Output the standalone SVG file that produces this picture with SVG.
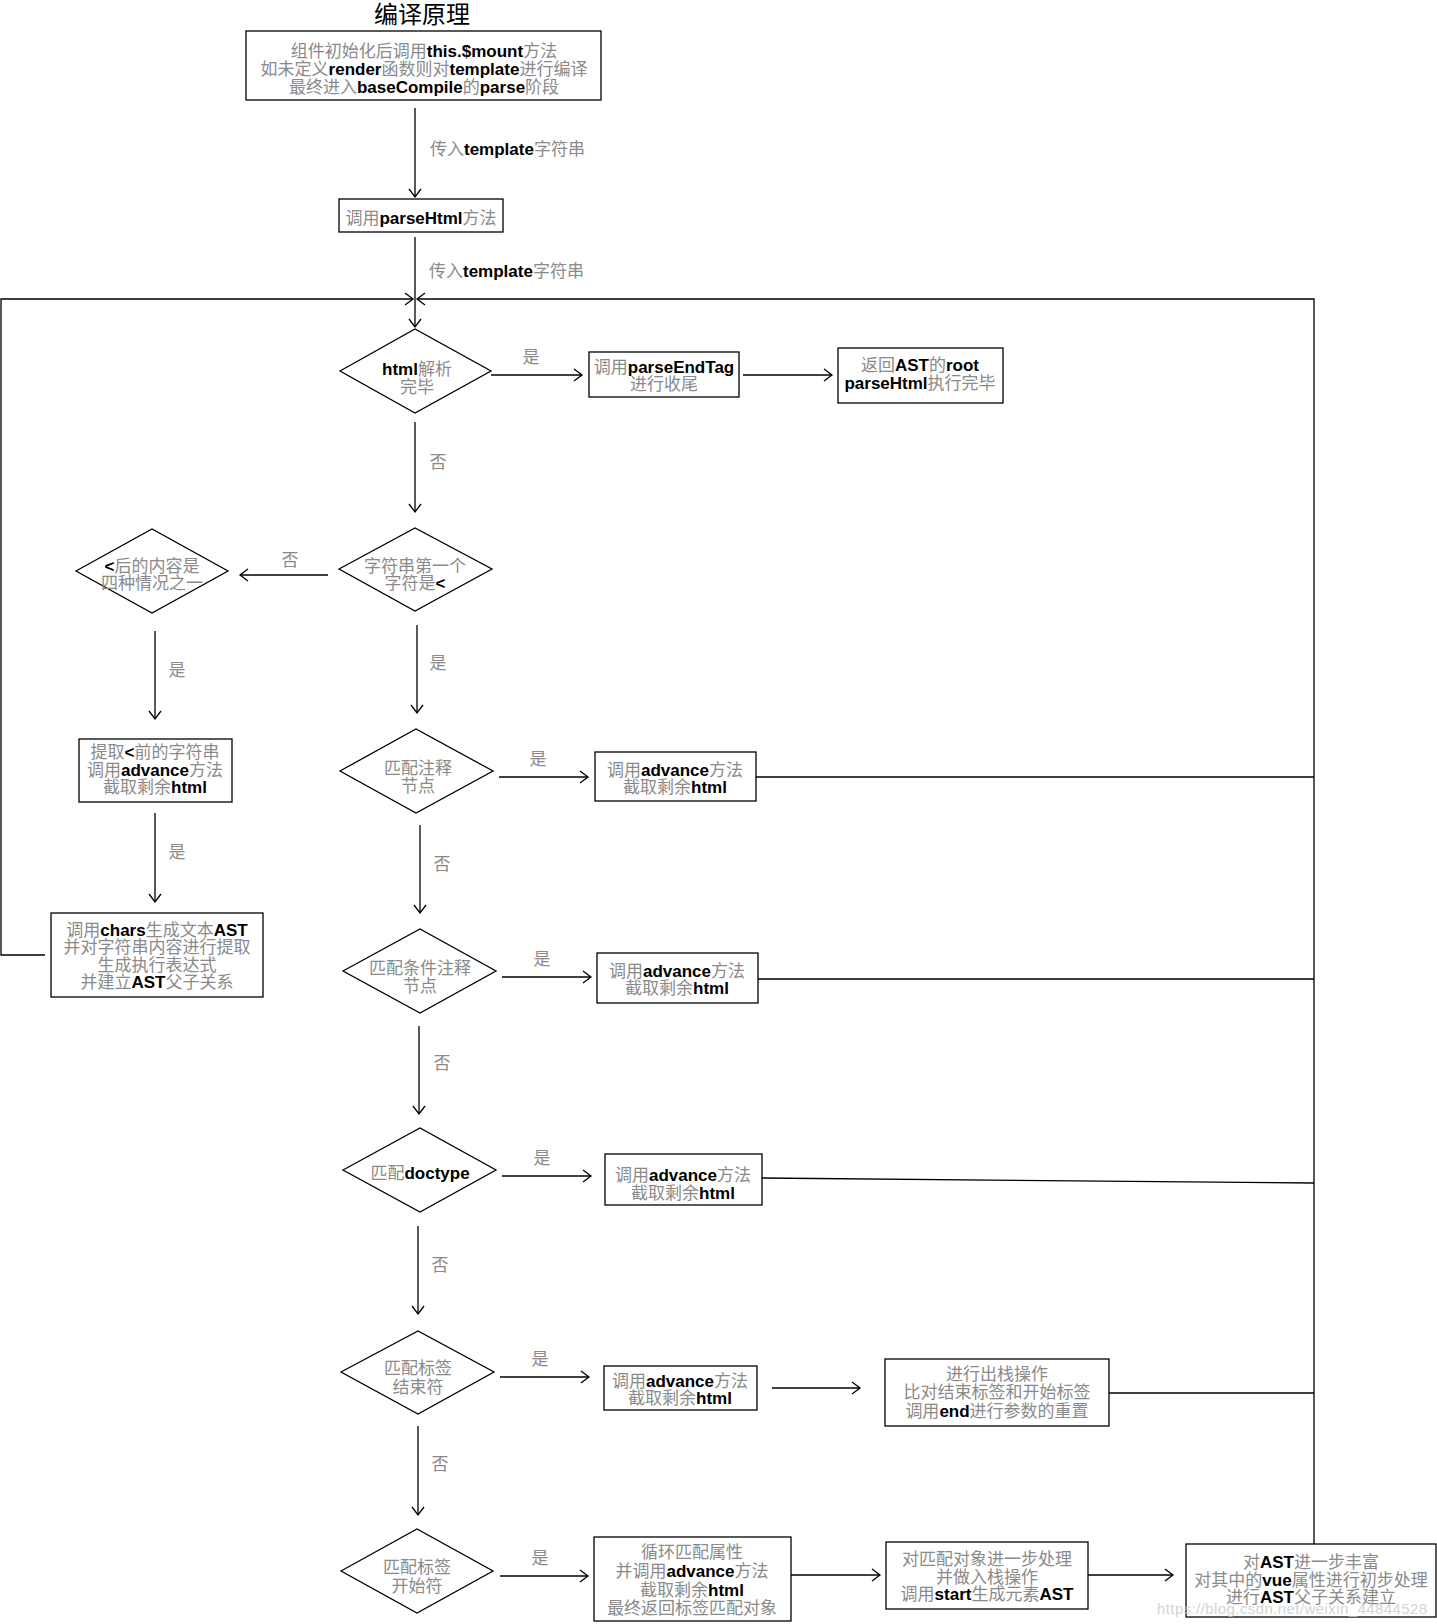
<svg xmlns="http://www.w3.org/2000/svg" width="1437" height="1624" viewBox="0 0 1437 1624">
<style>
.t{font-family:"Liberation Sans","Noto Sans CJK SC",sans-serif;font-size:17px;fill:#8a8a8a;text-anchor:middle}
.s{text-anchor:start}
.b{font-weight:bold;fill:#000}
.n{fill:#fff;stroke:#000;stroke-width:1.3}
.c{fill:none;stroke:#000;stroke-width:1.3}
.title{font-family:"Noto Sans CJK SC",sans-serif;font-size:24px;fill:#000;text-anchor:middle}
</style>
<defs>
<marker id="ah" markerUnits="userSpaceOnUse" markerWidth="12" markerHeight="14" viewBox="-10 -7 12 14" refX="0" refY="0" orient="auto"><path d="M-8,-6 L0,0 L-8,6" fill="none" stroke="#000" stroke-width="1.3"/></marker>
</defs>
<rect width="1437" height="1624" fill="#fff"/>
<text class="title" x="422" y="23">编译原理</text>

<g id="connectors">
<path class="c" d="M415,108 V197" marker-end="url(#ah)"/>
<path class="c" d="M415,237 V327" marker-end="url(#ah)"/>
<path class="c" d="M45,955 H1 V299 H413" marker-end="url(#ah)"/>
<path class="c" d="M1314,1544 V299 H417" marker-end="url(#ah)"/>
<path class="c" d="M491,375 H582" marker-end="url(#ah)"/>
<path class="c" d="M743,375 H832" marker-end="url(#ah)"/>
<path class="c" d="M415,422 V512" marker-end="url(#ah)"/>
<path class="c" d="M328,575 H240" marker-end="url(#ah)"/>
<path class="c" d="M155,631 V719" marker-end="url(#ah)"/>
<path class="c" d="M155,813 V902" marker-end="url(#ah)"/>
<path class="c" d="M417,625 V713" marker-end="url(#ah)"/>
<path class="c" d="M499,777 H588" marker-end="url(#ah)"/>
<path class="c" d="M756,777 H1314"/>
<path class="c" d="M420,825 V913" marker-end="url(#ah)"/>
<path class="c" d="M502,977 H591" marker-end="url(#ah)"/>
<path class="c" d="M758,979 H1314"/>
<path class="c" d="M419,1026 V1114" marker-end="url(#ah)"/>
<path class="c" d="M502,1176 H591" marker-end="url(#ah)"/>
<path class="c" d="M762,1178 L1314,1183"/>
<path class="c" d="M418,1226 V1314" marker-end="url(#ah)"/>
<path class="c" d="M500,1377 H589" marker-end="url(#ah)"/>
<path class="c" d="M772,1388 H860" marker-end="url(#ah)"/>
<path class="c" d="M1109,1393 H1314"/>
<path class="c" d="M418,1426 V1515" marker-end="url(#ah)"/>
<path class="c" d="M500,1576 H588" marker-end="url(#ah)"/>
<path class="c" d="M791,1575 H880" marker-end="url(#ah)"/>
<path class="c" d="M1088,1575 H1173" marker-end="url(#ah)"/>
<text class="t s" x="430" y="155">传入<tspan class="b">template</tspan>字符串</text>
<text class="t s" x="429" y="277">传入<tspan class="b">template</tspan>字符串</text>
<text class="t" x="531" y="363">是</text>
<text class="t" x="438" y="468">否</text>
<text class="t" x="290" y="566">否</text>
<text class="t" x="177" y="676">是</text>
<text class="t" x="177" y="858">是</text>
<text class="t" x="438" y="669">是</text>
<text class="t" x="538" y="765">是</text>
<text class="t" x="442" y="870">否</text>
<text class="t" x="542" y="965">是</text>
<text class="t" x="442" y="1069">否</text>
<text class="t" x="542" y="1164">是</text>
<text class="t" x="440" y="1271">否</text>
<text class="t" x="540" y="1365">是</text>
<text class="t" x="440" y="1470">否</text>
<text class="t" x="540" y="1564">是</text>
</g>

<g id="n-start">
<rect class="n" x="246" y="31" width="355" height="69"/>
<text class="t" x="424" y="57">组件初始化后调用<tspan class="b">this.$mount</tspan>方法</text>
<text class="t" x="424" y="75">如未定义<tspan class="b">render</tspan>函数则对<tspan class="b">template</tspan>进行编译</text>
<text class="t" x="424" y="93">最终进入<tspan class="b">baseCompile</tspan>的<tspan class="b">parse</tspan>阶段</text>
</g>
<g id="n-parsehtml">
<rect class="n" x="339" y="199" width="164" height="33"/>
<text class="t" x="421" y="224">调用<tspan class="b">parseHtml</tspan>方法</text>
</g>
<g id="n-done">
<polygon class="n" points="340,371 415,329 491,371 415,413"/>
<text class="t" x="417" y="375"><tspan class="b">html</tspan>解析</text>
<text class="t" x="417" y="393">完毕</text>
</g>
<g id="n-endtag">
<rect class="n" x="589" y="352" width="150" height="45"/>
<text class="t" x="664" y="373">调用<tspan class="b">parseEndTag</tspan></text>
<text class="t" x="664" y="390">进行收尾</text>
</g>
<g id="n-root">
<rect class="n" x="838" y="348" width="165" height="55"/>
<text class="t" x="920" y="371">返回<tspan class="b">AST</tspan>的<tspan class="b">root</tspan></text>
<text class="t" x="920" y="389"><tspan class="b">parseHtml</tspan>执行完毕</text>
</g>
<g id="n-first">
<polygon class="n" points="339,569 415,528 492,569 415,611"/>
<text class="t" x="415" y="572">字符串第一个</text>
<text class="t" x="415" y="589">字符是<tspan class="b">&lt;</tspan></text>
</g>
<g id="n-four">
<polygon class="n" points="76,571 152,529 228,571 152,613"/>
<text class="t" x="152" y="572"><tspan class="b">&lt;</tspan>后的内容是</text>
<text class="t" x="152" y="589">四种情况之一</text>
</g>
<g id="n-extract">
<rect class="n" x="79" y="739" width="153" height="63"/>
<text class="t" x="155" y="758">提取<tspan class="b">&lt;</tspan>前的字符串</text>
<text class="t" x="155" y="776">调用<tspan class="b">advance</tspan>方法</text>
<text class="t" x="155" y="793">截取剩余<tspan class="b">html</tspan></text>
</g>
<g id="n-chars">
<rect class="n" x="51" y="913" width="212" height="84"/>
<text class="t" x="157" y="936">调用<tspan class="b">chars</tspan>生成文本<tspan class="b">AST</tspan></text>
<text class="t" x="157" y="953">并对字符串内容进行提取</text>
<text class="t" x="157" y="971">生成执行表达式</text>
<text class="t" x="157" y="988">并建立<tspan class="b">AST</tspan>父子关系</text>
</g>
<g id="n-comment">
<polygon class="n" points="340,771 416,729 493,771 416,813"/>
<text class="t" x="418" y="774">匹配注释</text>
<text class="t" x="418" y="792">节点</text>
</g>
<g id="n-adv1">
<rect class="n" x="595" y="752" width="161" height="49"/>
<text class="t" x="675" y="776">调用<tspan class="b">advance</tspan>方法</text>
<text class="t" x="675" y="793">截取剩余<tspan class="b">html</tspan></text>
</g>
<g id="n-cond">
<polygon class="n" points="343,971 420,929 496,971 420,1013"/>
<text class="t" x="420" y="974">匹配条件注释</text>
<text class="t" x="420" y="992">节点</text>
</g>
<g id="n-adv2">
<rect class="n" x="597" y="953" width="161" height="50"/>
<text class="t" x="677" y="977">调用<tspan class="b">advance</tspan>方法</text>
<text class="t" x="677" y="994">截取剩余<tspan class="b">html</tspan></text>
</g>
<g id="n-doctype">
<polygon class="n" points="343,1170 420,1128 496,1170 420,1212"/>
<text class="t" x="420" y="1179">匹配<tspan class="b">doctype</tspan></text>
</g>
<g id="n-adv3">
<rect class="n" x="605" y="1154" width="157" height="51"/>
<text class="t" x="683" y="1181">调用<tspan class="b">advance</tspan>方法</text>
<text class="t" x="683" y="1199">截取剩余<tspan class="b">html</tspan></text>
</g>
<g id="n-endtagm">
<polygon class="n" points="341,1372 418,1331 494,1372 418,1414"/>
<text class="t" x="418" y="1374">匹配标签</text>
<text class="t" x="418" y="1393">结束符</text>
</g>
<g id="n-adv4">
<rect class="n" x="604" y="1366" width="153" height="44"/>
<text class="t" x="680" y="1387">调用<tspan class="b">advance</tspan>方法</text>
<text class="t" x="680" y="1404">截取剩余<tspan class="b">html</tspan></text>
</g>
<g id="n-pop">
<rect class="n" x="885" y="1359" width="224" height="67"/>
<text class="t" x="997" y="1380">进行出栈操作</text>
<text class="t" x="997" y="1398">比对结束标签和开始标签</text>
<text class="t" x="997" y="1417">调用<tspan class="b">end</tspan>进行参数的重置</text>
</g>
<g id="n-starttag">
<polygon class="n" points="341,1571 417,1529 493,1571 417,1613"/>
<text class="t" x="417" y="1573">匹配标签</text>
<text class="t" x="417" y="1592">开始符</text>
</g>
<g id="n-attrs">
<rect class="n" x="594" y="1537" width="197" height="84"/>
<text class="t" x="692" y="1558">循环匹配属性</text>
<text class="t" x="692" y="1577">并调用<tspan class="b">advance</tspan>方法</text>
<text class="t" x="692" y="1596">截取剩余<tspan class="b">html</tspan></text>
<text class="t" x="692" y="1614">最终返回标签匹配对象</text>
</g>
<g id="n-push">
<rect class="n" x="886" y="1542" width="202" height="67"/>
<text class="t" x="987" y="1565">对匹配对象进一步处理</text>
<text class="t" x="987" y="1583">并做入栈操作</text>
<text class="t" x="987" y="1600">调用<tspan class="b">start</tspan>生成元素<tspan class="b">AST</tspan></text>
</g>
<g id="n-enrich">
<rect class="n" x="1186" y="1544" width="250" height="73"/>
<text class="t" x="1311" y="1568">对<tspan class="b">AST</tspan>进一步丰富</text>
<text class="t" x="1311" y="1586">对其中的<tspan class="b">vue</tspan>属性进行初步处理</text>
<text class="t" x="1311" y="1603">进行<tspan class="b">AST</tspan>父子关系建立</text>
</g>
<text x="1157" y="1614" font-family="Liberation Sans, sans-serif" font-size="15" fill="#c8c8c8" fill-opacity="0.8" textLength="270">https://blog.csdn.net/weixin_44844528</text>
</svg>
